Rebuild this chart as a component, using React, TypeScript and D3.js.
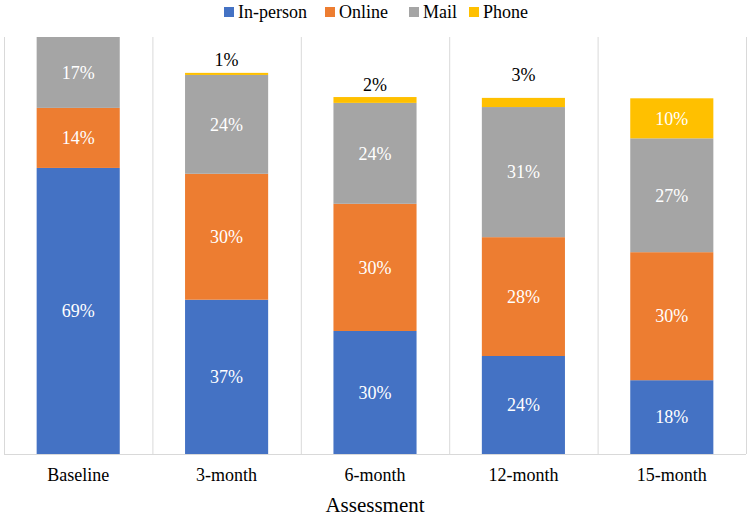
import * as d3 from "d3";

// assessments along the x axis
const assessments = ["Baseline", "3-month", "6-month", "12-month", "15-month"];
const modes = ["In-person", "Online", "Mail", "Phone"];

// segment sizes (percent of respondents)
const inPerson = [68.6, 37.0, 29.5, 23.5, 17.7];
const online = [14.4, 30.2, 30.5, 28.5, 30.7];
const mail = [17.0, 23.7, 24.2, 31.2, 27.3];
const phone = [0, 0.5, 1.4, 2.2, 9.6];

// the printed labels
const inPersonLabel = ["69%", "37%", "30%", "24%", "18%"];
const onlineLabel = ["14%", "30%", "30%", "28%", "30%"];
const mailLabel = ["17%", "24%", "24%", "31%", "27%"];
const phoneLabel = ["", "1%", "2%", "3%", "10%"];

const colors = ["#4472C4", "#ED7D31", "#A5A5A5", "#FFC000"];
const W = 750;
const H = 516;
const margin = { top: 37, right: 4, bottom: 62, left: 4 };
const txtStyle = (size: number) => ({ fontFamily: "Liberation Serif, serif", fontSize: `${size}px` });
// the phone labels that sit above the bar were nudged by hand in the original
const outsideLift: Record<number, number> = { 1: 13, 2: 12, 3: 23 };
const legendX = [224, 325, 409, 469];

export default function App() {
  const rows = assessments.map((a, i) => ({
    a,
    "In-person": inPerson[i],
    Online: online[i],
    Mail: mail[i],
    Phone: phone[i],
  }));
  const labels = [inPersonLabel, onlineLabel, mailLabel, phoneLabel];
  const stack = d3.stack<any>().keys(modes)(rows);

  const x = d3
    .scaleBand()
    .domain(assessments)
    .range([margin.left, W - margin.right]);
  const y = d3
    .scaleLinear()
    .domain([0, 100])
    .range([H - margin.bottom, margin.top]);

  const barW = x.bandwidth() * 0.56;
  const cx = (a: string) => x(a)! + x.bandwidth() / 2;
  const seps = [...assessments.map((a) => x(a)!), W - margin.right];
  const bottom = y(0);

  return (
    <svg
      width={W}
      height={H}
      style={{ position: "absolute", left: 0, top: 0, background: "#fff" }}
    >
      {/* category separators and axis line */}
      {seps.map((s) => (
        <line key={s} x1={s + 0.5} x2={s + 0.5} y1={margin.top} y2={bottom} stroke="#d9d9d9" />
      ))}
      <line x1={margin.left} x2={W - margin.right} y1={bottom + 0.5} y2={bottom + 0.5} stroke="#d9d9d9" />

      {stack.map((layer, k) => (
        <g key={layer.key} fill={colors[k]}>
          {layer.map((d: any) => (
            <rect
              key={d.data.a}
              x={cx(d.data.a) - barW / 2}
              width={barW}
              y={y(d[1])}
              height={y(d[0]) - y(d[1])}
            />
          ))}
        </g>
      ))}

      {/* segment labels */}
      {stack.map((layer, k) =>
        layer.map((d: any, i) => {
          const txt = labels[k][i];
          if (!txt) return null;
          const h = y(d[0]) - y(d[1]);
          const inside = h > 20;
          const ty = inside ? (y(d[0]) + y(d[1])) / 2 : y(d[1]) - (outsideLift[i] ?? 12);
          return (
            <text
              key={`${k}-${i}`}
              x={cx(d.data.a)}
              y={ty}
              dy="0.35em"
              textAnchor="middle"
              style={txtStyle(18)}
              fill={inside ? "#fff" : "#000"}
            >
              {txt}
            </text>
          );
        })
      )}

      {/* x tick labels */}
      {assessments.map((a) => (
        <text key={a} x={cx(a)} y={bottom + 21} dy="0.35em" textAnchor="middle" style={txtStyle(18)}>
          {a}
        </text>
      ))}
      <text x={(margin.left + W - margin.right) / 2} y={505} dy="0.35em" textAnchor="middle" style={txtStyle(21)}>
        Assessment
      </text>

      {/* legend */}
      {modes.map((m, i) => (
        <g key={m} transform={`translate(${legendX[i]} 12)`}>
          <rect y={-5} width={10} height={10} fill={colors[i]} />
          <text x={14} dy="0.35em" style={txtStyle(18)}>
            {m}
          </text>
        </g>
      ))}
    </svg>
  );
}
